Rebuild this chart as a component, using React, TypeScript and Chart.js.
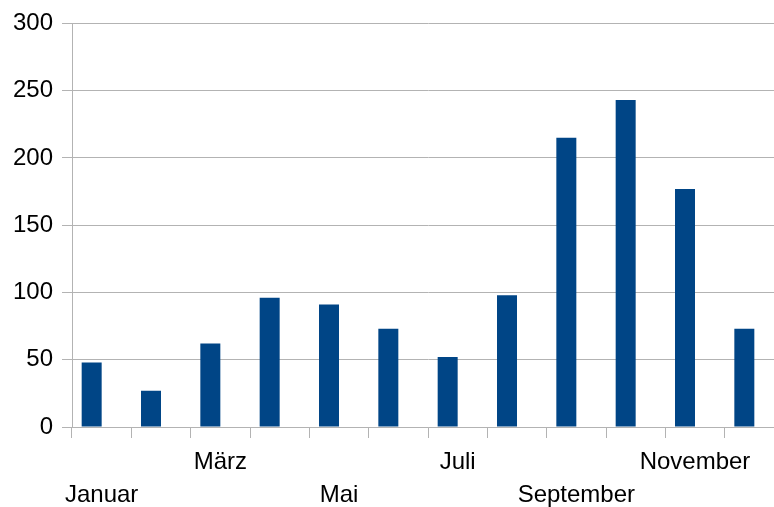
import React, { useEffect, useRef } from "react";
import { Chart, registerables } from "chart.js";

Chart.register(...registerables);

const months = [
  "Januar", "Februar", "März", "April", "Mai", "Juni",
  "Juli", "August", "September", "Oktober", "November", "Dezember",
];
const values = [48, 27, 62, 96, 91, 73, 52, 98, 215, 243, 177, 73];
const emptySeries = months.map(() => null);
// which row each visible label sits in (0 = upper, 1 = lower), null = hidden
const labelRows = [1, null, 0, null, 1, null, 0, null, 1, null, 0, null];
const yTicksMax = 300;
const yStep = 50;

const FONT = "'Liberation Sans', Arial, sans-serif";
const GRID = "#b3b3b3";

export default function App() {
  const ref = useRef<HTMLCanvasElement | null>(null);
  useEffect(() => {
    if (!ref.current) return;
    const chart = new Chart(ref.current, {
      type: "bar",
      data: {
        labels: months,
        datasets: [
          { data: values, backgroundColor: "#004586", borderWidth: 0 },
          { data: emptySeries as any, backgroundColor: "#ff420e", borderWidth: 0 },
        ],
      },
      options: {
        responsive: false,
        animation: false,
        datasets: { bar: { categoryPercentage: 0.674, barPercentage: 1 } },
        layout: { padding: { top: 22, right: 0, left: 0, bottom: 0 } },
        plugins: { legend: { display: false }, tooltip: { enabled: false } },
        scales: {
          x: {
            offset: true,
            grid: {
              display: true,
              offset: true,
              drawOnChartArea: false,
              drawTicks: true,
              tickLength: 11,
              color: GRID,
            },
            border: { display: true, color: GRID },
            ticks: {
              autoSkip: false,
              maxRotation: 0,
              minRotation: 0,
              padding: 8,
              color: "#000",
              font: { family: FONT, size: 24, lineHeight: 1.375 },
              callback: (_v: any, i: number) => {
                const r = labelRows[i];
                if (r === null) return "";
                return r === 0 ? [months[i]] : ["", months[i]];
              },
            },
            afterFit: (s: any) => { s.height = 80; },
          },
          y: {
            min: 0,
            max: yTicksMax,
            grid: { color: GRID, drawTicks: true, tickLength: 10 },
            border: { display: true, color: GRID },
            ticks: {
              stepSize: yStep,
              padding: 9,
              color: "#000",
              font: { family: FONT, size: 24 },
            },
            afterFit: (s: any) => { s.width = 72; },
          },
        },
      },
    });
    return () => chart.destroy();
  }, []);
  return (
    <div style={{ position: "fixed", left: 0, top: 0, width: 774, height: 507, overflow: "hidden", background: "#fff" }}>
      <canvas ref={ref} width={784} height={507} style={{ display: "block" }} />
    </div>
  );
}
